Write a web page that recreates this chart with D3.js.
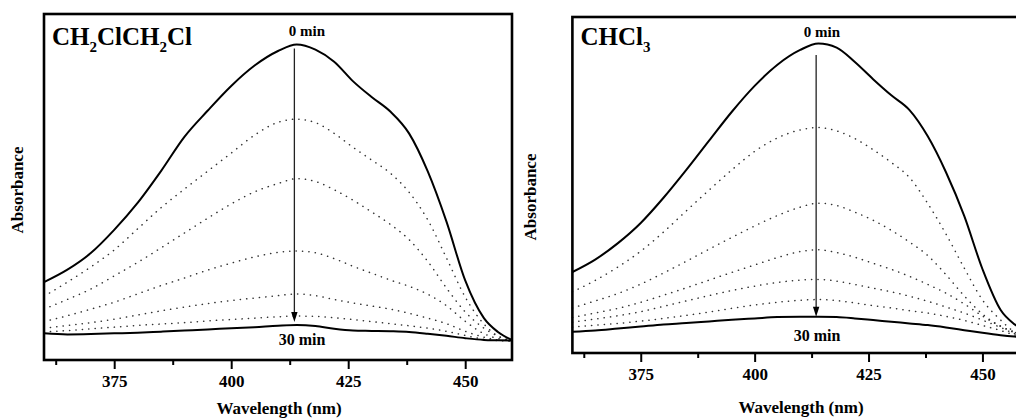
<!DOCTYPE html>
<html><head><meta charset="utf-8">
<script src="https://cdn.jsdelivr.net/npm/d3@7"></script>
<style>
body{margin:0;background:#fff}
svg{display:block}
text{font-family:"Liberation Serif","Times New Roman",serif;font-weight:bold;fill:#000}
</style>
</head><body>
<svg id="c" width="1016" height="419"></svg>
<script>
// ---------- DATA ----------
const wavelengths = [360,365,370,375,380,385,390,395,400,405,410,414,418,422,426,430,434,438,442,446,450,454,457,460];
const majorTicks = [375,400,425,450];
const minorTicks = [362.5,387.5,412.5,437.5];

// CH2ClCH2Cl panel (arbitrary absorbance units)
const dce_0min = [0.225,0.261,0.309,0.376,0.454,0.546,0.645,0.721,0.792,0.851,0.893,0.912,0.897,0.862,0.806,0.760,0.718,0.655,0.545,0.400,0.230,0.121,0.081,0.058];
const dce_t1   = [0.184,0.225,0.269,0.318,0.379,0.440,0.494,0.546,0.598,0.650,0.687,0.696,0.686,0.655,0.615,0.578,0.540,0.485,0.405,0.295,0.182,0.104,0.069,0.055];
const dce_t2   = [0.147,0.175,0.205,0.243,0.282,0.324,0.367,0.410,0.451,0.486,0.510,0.524,0.516,0.492,0.462,0.428,0.392,0.348,0.285,0.208,0.139,0.092,0.069,0.056];
const dce_t3   = [0.111,0.128,0.147,0.167,0.191,0.215,0.237,0.260,0.280,0.298,0.311,0.315,0.310,0.293,0.271,0.251,0.231,0.213,0.190,0.157,0.112,0.076,0.062,0.055];
const dce_t4   = [0.092,0.100,0.108,0.118,0.130,0.142,0.153,0.163,0.172,0.179,0.186,0.191,0.186,0.175,0.165,0.156,0.147,0.135,0.121,0.105,0.083,0.066,0.058,0.055];
const dce_t5   = [0.081,0.085,0.090,0.095,0.100,0.104,0.108,0.113,0.117,0.121,0.125,0.127,0.126,0.122,0.117,0.111,0.105,0.099,0.092,0.083,0.071,0.060,0.056,0.055];
const dce_30min= [0.077,0.074,0.075,0.077,0.079,0.082,0.085,0.088,0.092,0.095,0.099,0.101,0.098,0.090,0.085,0.084,0.083,0.081,0.076,0.070,0.063,0.058,0.057,0.056];

// CHCl3 panel
const chcl3_0min = [0.241,0.278,0.327,0.387,0.462,0.545,0.632,0.718,0.795,0.858,0.902,0.921,0.909,0.866,0.815,0.767,0.723,0.645,0.538,0.408,0.250,0.128,0.086,0.063];
const chcl3_t1   = [0.182,0.216,0.256,0.303,0.360,0.423,0.485,0.545,0.600,0.640,0.664,0.671,0.661,0.638,0.605,0.567,0.522,0.445,0.354,0.253,0.158,0.098,0.063,0.045];
const chcl3_t2   = [0.134,0.155,0.177,0.205,0.238,0.273,0.309,0.344,0.378,0.409,0.434,0.446,0.439,0.419,0.395,0.365,0.330,0.290,0.233,0.170,0.116,0.080,0.063,0.051];
const chcl3_t3   = [0.106,0.119,0.133,0.151,0.172,0.194,0.217,0.240,0.262,0.284,0.302,0.307,0.299,0.285,0.267,0.249,0.228,0.204,0.178,0.146,0.110,0.079,0.061,0.051];
const chcl3_t4   = [0.092,0.101,0.111,0.123,0.139,0.155,0.171,0.186,0.199,0.210,0.217,0.219,0.214,0.204,0.193,0.182,0.169,0.154,0.137,0.119,0.098,0.076,0.058,0.048];
const chcl3_t5   = [0.077,0.083,0.088,0.095,0.103,0.112,0.122,0.133,0.143,0.151,0.157,0.159,0.156,0.149,0.141,0.134,0.126,0.119,0.109,0.097,0.082,0.067,0.054,0.045];
const chcl3_30min= [0.063,0.067,0.073,0.079,0.085,0.089,0.094,0.099,0.103,0.107,0.108,0.108,0.107,0.103,0.098,0.093,0.088,0.083,0.076,0.068,0.060,0.053,0.049,0.046];

// ---------- DRAW ----------
const svg = d3.select("#c");

function panel(cfg){
  const x = d3.scaleLinear().domain([360,460]).range([cfg.x0,cfg.x1]);
  const y = d3.scaleLinear().domain([0,1]).range([cfg.y1,cfg.y0]);
  const g = svg.append("g");
  const line = d3.line().x((d,i)=>x(wavelengths[i])).y(d=>y(d)).curve(d3.curveMonotoneX);

  cfg.dotted.forEach(s=>{
    g.append("path").attr("d",line(s)).attr("fill","none")
      .attr("stroke","#333").attr("stroke-width",1.5)
      .attr("stroke-linecap","round").attr("stroke-dasharray","0.2,6.2");
  });
  g.append("path").attr("d",line(cfg.s30)).attr("fill","none").attr("stroke","#000").attr("stroke-width",2);
  g.append("path").attr("d",line(cfg.s0)).attr("fill","none").attr("stroke","#000").attr("stroke-width",2);

  // frame
  g.append("rect").attr("x",cfg.x0).attr("y",cfg.y0)
    .attr("width",cfg.x1-cfg.x0).attr("height",cfg.y1-cfg.y0)
    .attr("fill","none").attr("stroke","#000").attr("stroke-width",2.6);

  // axes
  const ax = g.append("g").attr("transform",`translate(0,${cfg.y1})`)
    .call(d3.axisBottom(x).tickValues(majorTicks).tickSize(9).tickPadding(6).tickFormat(d3.format("d")));
  ax.select(".domain").remove();
  ax.selectAll("line").attr("stroke","#000").attr("stroke-width",2);
  ax.selectAll("text").style("font-size","17px").style("font-family",'"Liberation Serif","Times New Roman",serif').style("font-weight","bold").attr("fill","#000");
  const mx = g.append("g").attr("transform",`translate(0,${cfg.y1})`)
    .call(d3.axisBottom(x).tickValues(minorTicks).tickSize(5).tickFormat(""));
  mx.select(".domain").remove();
  mx.selectAll("line").attr("stroke","#000").attr("stroke-width",2);

  // arrow
  const ax0 = x(413.5);
  g.append("line").attr("x1",ax0).attr("x2",ax0).attr("y1",y(cfg.arrowTop)).attr("y2",y(cfg.arrowTip)-8)
    .attr("stroke","#222").attr("stroke-width",1.3);
  const tipY = y(cfg.arrowTip);
  g.append("path").attr("d",`M${ax0},${tipY} L${ax0-3.2},${tipY-10} L${ax0+3.2},${tipY-10} Z`).attr("fill","#000");

  // labels
  g.append("text").attr("x",cfg.lab0[0]).attr("y",cfg.lab0[1]).attr("text-anchor","middle").style("font-size","15px").text("0 min");
  g.append("text").attr("x",cfg.lab30[0]).attr("y",cfg.lab30[1]).attr("text-anchor","middle").style("font-size","16px").text("30 min");

  const t = g.append("text").attr("x",cfg.x0+8).attr("y",cfg.titleY).style("font-size","25px");
  cfg.title.forEach(p=>{
    if(p.sub) t.append("tspan").attr("dy",7).style("font-size","15px").text(p.t);
    else t.append("tspan").attr("dy",p.after? -7:0).text(p.t);
  });

  g.append("text").attr("transform",`translate(${cfg.yLab[0]},${cfg.yLab[1]}) rotate(-90)`)
    .attr("text-anchor","middle").style("font-size","17px").text("Absorbance");
  g.append("text").attr("x",cfg.xLab[0]).attr("y",cfg.xLab[1]).attr("text-anchor","middle").style("font-size","17px").text("Wavelength (nm)");
}

panel({
  x0:44, x1:512, y0:14, y1:360,
  s0:dce_0min, s30:dce_30min, dotted:[dce_t1,dce_t2,dce_t3,dce_t4,dce_t5],
  arrowTop:0.9, arrowTip:0.11,
  lab0:[307,36], lab30:[302,345],
  title:[{t:"CH"},{t:"2",sub:true},{t:"ClCH",after:true},{t:"2",sub:true},{t:"Cl",after:true}],
  titleY:45,
  yLab:[23,190], xLab:[279,414]
});
panel({
  x0:572.4, x1:1028, y0:17, y1:353,
  s0:chcl3_0min, s30:chcl3_30min, dotted:[chcl3_t1,chcl3_t2,chcl3_t3,chcl3_t4,chcl3_t5],
  arrowTop:0.887, arrowTip:0.108,
  lab0:[822,37], lab30:[817,341],
  title:[{t:"CHCl"},{t:"3",sub:true}],
  titleY:45,
  yLab:[536,197], xLab:[801,413]
});
</script>
</body></html>
